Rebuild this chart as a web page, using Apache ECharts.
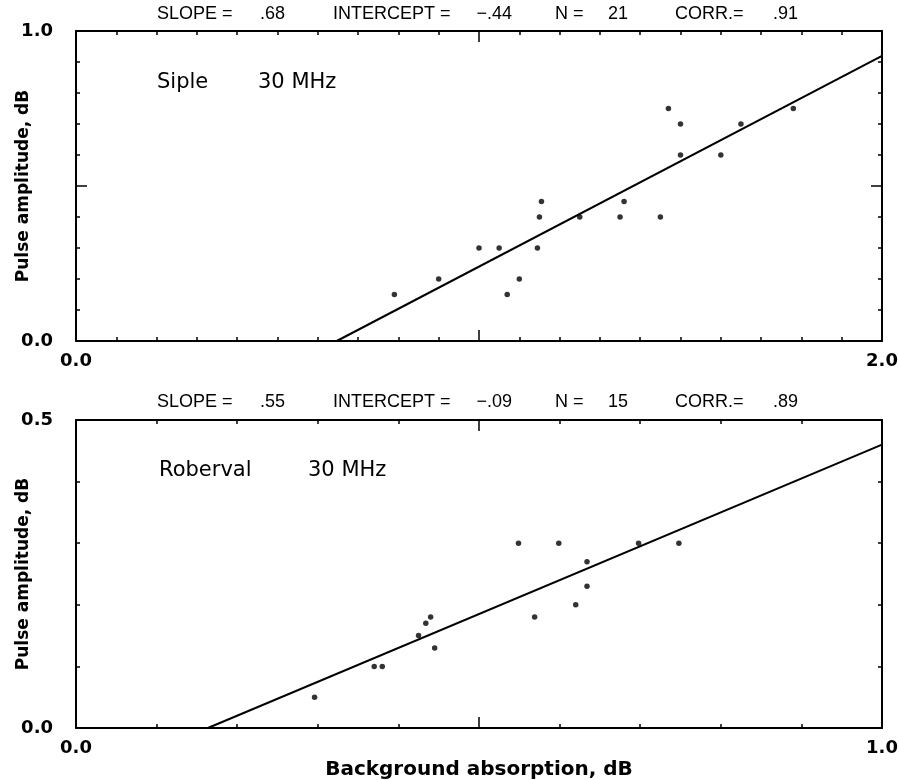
<!DOCTYPE html>
<html>
<head>
<meta charset="utf-8">
<title>Pulse amplitude vs background absorption</title>
<script src="https://cdn.jsdelivr.net/npm/echarts@6/dist/echarts.min.js"></script>
<style>
  html, body { margin: 0; padding: 0; background: #fff; }
  #chart { width: 899px; height: 780px; }
</style>
</head>
<body>
<div id="chart"></div>
<script>
// Siple, 30 MHz
const sipleX = [0.79, 0.90, 1.00, 1.05, 1.07, 1.10, 1.145, 1.15, 1.155, 1.25, 1.35, 1.36, 1.45, 1.47, 1.50, 1.50, 1.60, 1.65, 1.78]
const sipleY = [0.15, 0.20, 0.30, 0.30, 0.15, 0.20, 0.30, 0.40, 0.45, 0.40, 0.40, 0.45, 0.40, 0.75, 0.70, 0.60, 0.60, 0.70, 0.75]
const sipleFit = { slope: 0.68, intercept: -0.44, n: 21, corr: 0.91 }

// Roberval, 30 MHz
const robX = [0.296, 0.37, 0.38, 0.425, 0.434, 0.44, 0.445, 0.549, 0.569, 0.599, 0.62, 0.634, 0.634, 0.698, 0.748]
const robY = [0.05, 0.10, 0.10, 0.15, 0.17, 0.18, 0.13, 0.30, 0.18, 0.30, 0.20, 0.27, 0.23, 0.30, 0.30]
const robFit = { slope: 0.55, intercept: -0.09, n: 15, corr: 0.89 }

// axis ranges: [xMax, yMax, xMajor, yMajor]
const sipleAxes = [2.0, 1.0, 1.0, 0.5]
const robAxes = [1.0, 0.5, 0.5, null]

const FONT = 'DejaVu Sans'
const THIN = '"Liberation Sans", Arial, sans-serif'

function pairs(xs, ys) {
  return xs.map((x, i) => [x, ys[i]])
}

function fitLine(fit, xMax) {
  const x0 = -fit.intercept / fit.slope
  return [[x0, 0], [xMax, fit.slope * xMax + fit.intercept]]
}

function fmt(v) {
  const s = Math.abs(v).toFixed(2).replace(/^0/, '')
  return v < 0 ? '\u2212' + s : s
}

const chart = echarts.init(document.getElementById('chart'))

const xAxis = []
const yAxis = []

function endLabel(max) {
  return {
    show: true,
    color: '#000',
    fontFamily: FONT,
    fontWeight: 'bold',
    fontSize: 18,
    formatter: v => (Math.abs(v) < 1e-9 || Math.abs(v - max) < 1e-9) ? v.toFixed(1) : ''
  }
}

function addAxes(grid, ranges, showXName) {
  const [xMax, yMax, xMajor, yMajor] = ranges
  const line = { show: true, onZero: false, lineStyle: { color: '#000', width: 2 } }
  const noLine = { show: false, onZero: false }
  const minor = { show: true, inside: true, length: 4, lineStyle: { color: '#000', width: 1.5 } }
  const major = { show: true, inside: true, length: 11, lineStyle: { color: '#000', width: 1.5 } }
  const base = { type: 'value', gridIndex: grid, min: 0, splitLine: { show: false } }

  xAxis.push(Object.assign({}, base, {
    max: xMax, interval: 0.1, position: 'bottom',
    axisLine: line, axisTick: minor,
    axisLabel: Object.assign(endLabel(xMax), { margin: 11 }),
    name: showXName ? 'Background absorption, dB' : '',
    nameLocation: 'middle', nameGap: 32, nameMoveOverlap: false,
    nameTextStyle: { color: '#000', fontFamily: FONT, fontWeight: 'bold', fontSize: 20 }
  }))
  xAxis.push(Object.assign({}, base, {
    max: xMax, interval: 0.1, position: 'top',
    axisLine: line, axisTick: minor, axisLabel: { show: false }
  }))
  xAxis.push(Object.assign({}, base, {
    max: xMax, interval: xMajor, position: 'bottom',
    axisLine: noLine, axisTick: major, axisLabel: { show: false }
  }))
  xAxis.push(Object.assign({}, base, {
    max: xMax, interval: xMajor, position: 'top',
    axisLine: noLine, axisTick: major, axisLabel: { show: false }
  }))

  yAxis.push(Object.assign({}, base, {
    max: yMax, interval: 0.1, position: 'left',
    axisLine: line, axisTick: minor,
    axisLabel: Object.assign(endLabel(yMax), { margin: 23 }),
    name: 'Pulse amplitude, dB', nameLocation: 'middle', nameGap: 44, nameRotate: 90,
    nameMoveOverlap: false,
    nameTextStyle: { color: '#000', fontFamily: FONT, fontWeight: 'bold', fontSize: 17 }
  }))
  yAxis.push(Object.assign({}, base, {
    max: yMax, interval: 0.1, position: 'right',
    axisLine: line, axisTick: minor, axisLabel: { show: false }
  }))
  if (yMajor) {
    yAxis.push(Object.assign({}, base, {
      max: yMax, interval: yMajor, position: 'left',
      axisLine: noLine, axisTick: major, axisLabel: { show: false }
    }))
    yAxis.push(Object.assign({}, base, {
      max: yMax, interval: yMajor, position: 'right',
      axisLine: noLine, axisTick: major, axisLabel: { show: false }
    }))
  }
}

addAxes(0, sipleAxes, false)
const robYStart = yAxis.length
addAxes(1, robAxes, true)

// label text left-aligned, value right-aligned, like the fixed columns of the printout
function header(fit, y) {
  const style = { fill: '#000', font: '18px ' + THIN, textVerticalAlign: 'middle' }
  const parts = [
    ['SLOPE =', 157, fmt(fit.slope), 285],
    ['INTERCEPT =', 333, fmt(fit.intercept), 512],
    ['N =', 555, String(fit.n), 628],
    ['CORR.=', 675, fmt(fit.corr), 798]
  ]
  const out = []
  parts.forEach(([label, lx, value, vx]) => {
    out.push({ type: 'text', x: lx, y: y, silent: true,
      style: Object.assign({ text: label, textAlign: 'left' }, style) })
    out.push({ type: 'text', x: vx, y: y, silent: true,
      style: Object.assign({ text: value, textAlign: 'right' }, style) })
  })
  return out
}

function panelLabel(site, x, y) {
  const style = { fill: '#000', font: '21px ' + FONT }
  return [
    { type: 'text', left: x[0], top: y, silent: true, style: Object.assign({ text: site }, style) },
    { type: 'text', left: x[1], top: y, silent: true, style: Object.assign({ text: '30 MHz' }, style) }
  ]
}

const dots = { type: 'scatter', symbol: 'circle', symbolSize: 5.5, itemStyle: { color: '#000' }, silent: true }
const fit = { type: 'line', showSymbol: false, silent: true, lineStyle: { color: '#000', width: 2 } }

chart.setOption({
  backgroundColor: '#fff',
  animation: false,
  grid: [
    { left: 76, top: 31, width: 806, height: 310, outerBoundsMode: 'none' },
    { left: 76, top: 420, width: 806, height: 308, outerBoundsMode: 'none' }
  ],
  xAxis: xAxis,
  yAxis: yAxis,
  graphic: [].concat(
    header(sipleFit, 14),
    header(robFit, 402),
    panelLabel('Siple', [157, 258], 72),
    panelLabel('Roberval', [159, 308], 460)
  ),
  series: [
    Object.assign({}, dots, { xAxisIndex: 0, yAxisIndex: 0, data: pairs(sipleX, sipleY) }),
    Object.assign({}, fit, { xAxisIndex: 0, yAxisIndex: 0, data: fitLine(sipleFit, sipleAxes[0]) }),
    Object.assign({}, dots, { xAxisIndex: 4, yAxisIndex: robYStart, data: pairs(robX, robY) }),
    Object.assign({}, fit, { xAxisIndex: 4, yAxisIndex: robYStart, data: fitLine(robFit, robAxes[0]) })
  ]
})
</script>
</body>
</html>
